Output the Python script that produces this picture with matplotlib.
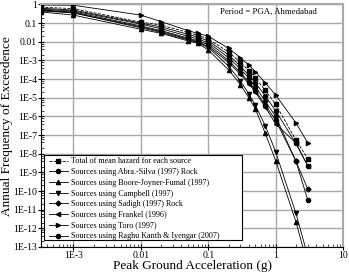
import numpy as np
import matplotlib
matplotlib.use('Agg')
import matplotlib.pyplot as plt
from matplotlib.patches import Rectangle

# PGA values (g) where the hazard was computed
pga = [3.3e-4, 1e-3, 0.01, 0.02, 0.05, 0.07, 0.1, 0.2, 0.3, 0.4, 0.5, 0.7, 1.0, 2.0, 3.0]

# log10 of annual frequency of exceedence
total   = [-0.15, -0.22, -0.95, -1.10, -1.50, -1.65, -1.85, -2.55, -3.10, -3.55, -3.95, -4.60, -5.35, -7.27, -8.28]
abra    = [-0.20, -0.30, -1.00, -1.20, -1.60, -1.75, -1.95, -2.70, -3.30, -3.80, -4.20, -4.90, -5.70, -7.45, -8.66]
boore   = [-0.40, -0.57, -1.33, -1.55, -1.95, -2.07, -2.44, -3.50, -4.30, -5.00, -5.60, -6.90, -8.37, -11.65, -14.0]
campb   = [-0.30, -0.45, -1.25, -1.50, -1.90, -2.05, -2.30, -3.30, -4.10, -4.80, -5.40, -6.50, -7.90, -11.20, -13.5]
sadigh  = [-0.25, -0.35, -1.05, -1.30, -1.70, -1.85, -2.05, -2.85, -3.45, -3.95, -4.40, -5.20, -6.00, -8.40, -9.90]
frankel = [-0.35, -0.45, -1.20, -1.45, -1.85, -2.00, -2.25, -3.10, -3.75, -4.25, -4.70, -5.50, -6.40, -7.43, -8.66]
toro    = [-0.03, -0.04, -0.57, -0.92, -1.40, -1.55, -1.70, -2.35, -2.85, -3.25, -3.60, -4.20, -4.85, -6.35, -7.43]
raghu   = [-0.30, -0.40, -1.15, -1.40, -1.80, -1.95, -2.15, -3.00, -3.65, -4.15, -4.60, -5.40, -6.20, -8.40, -10.50]

labels = ['Total of mean hazard for each source',
          'Sources using Abra.-Silva (1997) Rock',
          'Sources using Boore-Joyner-Fumal (1997)',
          'Sources using Campbell (1997)',
          'Sources using Sadigh (1997) Rock',
          'Sources using Frankel (1996)',
          'Sources using Toro (1997)',
          'Sources using Raghu Kanth & Iyengar (2007)']

xticks = [1e-3, 1e-2, 1e-1, 1, 10]
xticklabels = ['1E-3', '0.01', '0.1', '1', '10']
yticks = [10.0**(-k) for k in range(14)]
yticklabels = ['1', '0.1', '0.01'] + ['1E-%d' % k for k in range(3, 14)]

plt.rcParams['font.family'] = ['Liberation Serif', 'DejaVu Serif']

fig = plt.figure(figsize=(3.49, 2.72), dpi=100)
ax = fig.add_axes([0.1175, 0.092, 0.8655, 0.8915])

series = [total, abra, boore, campb, sadigh, frankel, toro, raghu]
markers = ['s', 'o', '^', 'v', 'D', '<', '>', 'o']
styles = ['--', '-', '-', '-', '-', '-', '-', '-']
for y, m, ls, lab in zip(series, markers, styles, labels):
    ax.plot(pga, 10.0**np.array(y), ls=ls, marker=m, color='black', lw=0.6,
            ms=3 if m != 'D' else 2.5, label=lab)

ax.set_xscale('log')
ax.set_yscale('log')
ax.set_xlim(3.3e-4, 10)
ax.set_ylim(1e-13, 1)
ax.set_xticks(xticks)
ax.set_xticklabels(xticklabels)
ax.set_yticks(yticks)
ax.set_yticklabels(yticklabels)
ax.yaxis.set_minor_locator(matplotlib.ticker.LogLocator(base=10, subs=[2, 4, 6, 8], numticks=100))
ax.yaxis.set_minor_formatter(matplotlib.ticker.NullFormatter())
ax.grid(True, which='major', color='#a8a8a8', lw=1)
ax.tick_params(which='major', direction='inout', length=4, width=0.8, labelsize=7, pad=1)
ax.tick_params(which='minor', direction='in', length=2, width=0.5)
for s in ['top', 'right']:
    ax.spines[s].set_color('#a8a8a8')
    ax.spines[s].set_linewidth(1.5)

ax.set_xlabel('Peak Ground Acceleration (g)', fontsize=9.5)
ax.xaxis.set_label_coords(0.5, -0.08)
ax.xaxis.label.set_va('center')
ax.set_ylabel('Annual Frequency of Exceedence', fontsize=9.5)
ax.yaxis.set_label_coords(-0.112, 0.5)
ax.yaxis.label.set_va('center')
ax.text(0.752, 0.969, 'Period = PGA, Ahmedabad', fontsize=6.3, ha='center', va='center',
        transform=ax.transAxes)

# legend box drawn by hand so it can be wider than the entries
ax.add_patch(Rectangle((0.01, 0.029), 0.656, 0.35, transform=ax.transAxes,
                       facecolor='white', edgecolor='black', lw=0.8, zorder=4))
leg = ax.legend(loc='lower left', bbox_to_anchor=(0.025, 0.027), fontsize=5.9, frameon=False,
                handlelength=2.4, labelspacing=0.33, borderaxespad=0, borderpad=0,
                handletextpad=0.3)
leg.set_zorder(5)

fig.savefig('out.png', dpi=100)
